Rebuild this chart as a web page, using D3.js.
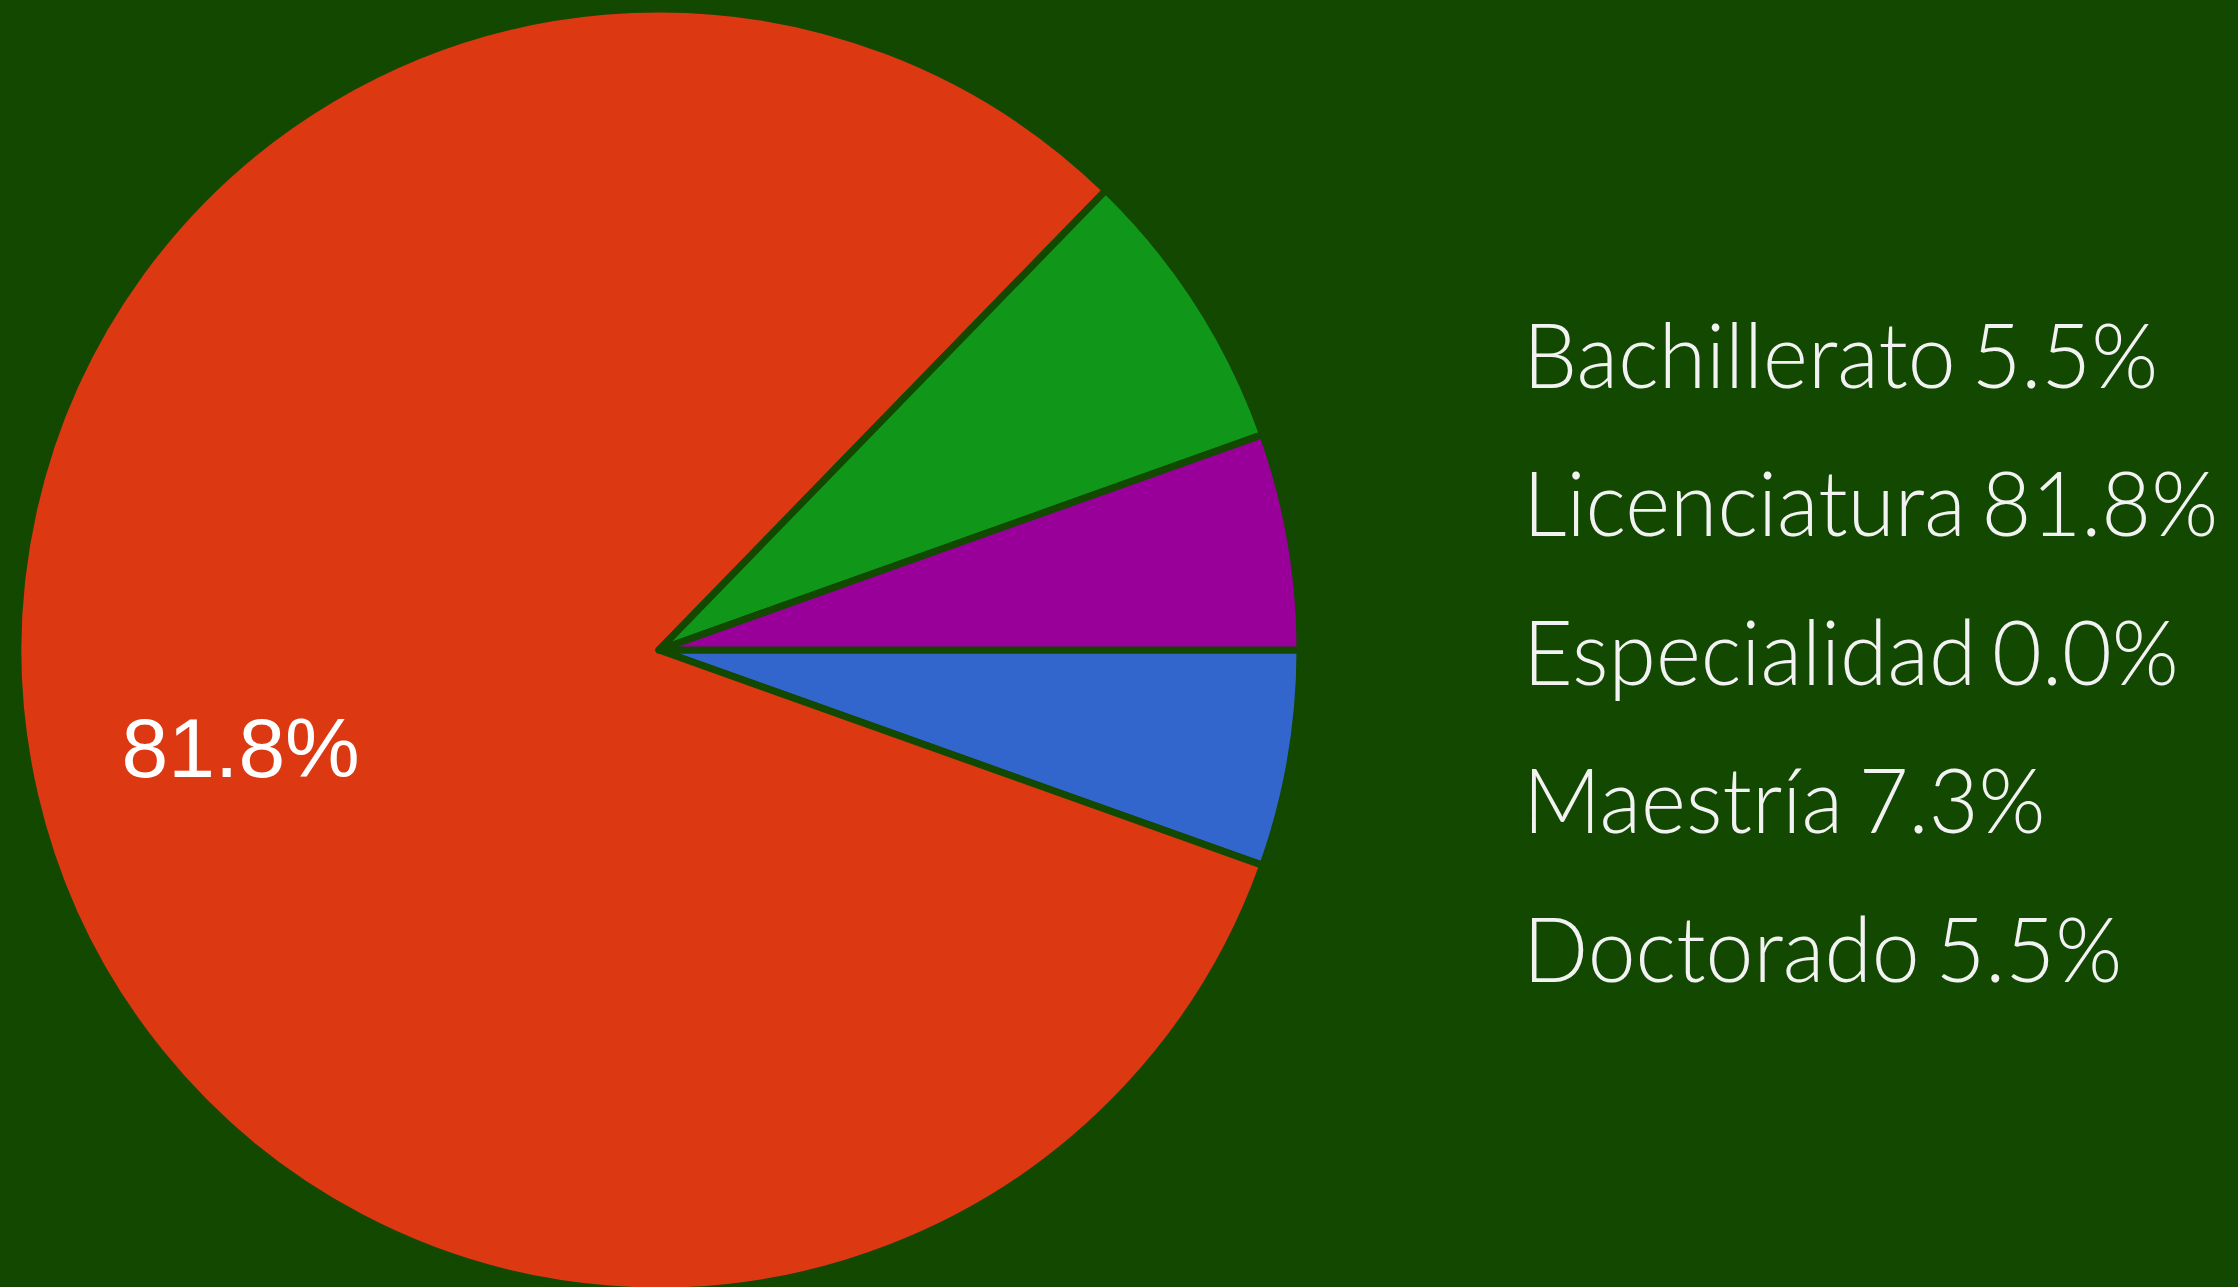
<!DOCTYPE html>
<html>
<head>
  <meta charset="utf-8">
  <title>Nivel de estudios</title>
  <script src="https://d3js.org/d3.v7.min.js"></script>
  <style>
    html, body { margin: 0; padding: 0; background: #124800; }
    svg { display: block; }
    .legend text { font-family: Lato, sans-serif; font-weight: 300; fill: #f2f2f2; }
    .slice-label { font-family: Arial, "Liberation Sans", sans-serif; fill: #fff; }
  </style>
</head>
<body>
  <svg width="2238" height="1287"></svg>
  <script>
    // counts per level (55 people in total)
    const categories = ["Bachillerato", "Licenciatura", "Especialidad", "Maestría", "Doctorado"];
    const counts = [3, 45, 0, 4, 3];
    const colors = ["#3366cc", "#dc3912", "#ff9900", "#109618", "#990099"];

    const data = categories.map((c, i) => ({ name: c, value: counts[i], color: colors[i] }));
    const total = d3.sum(counts);
    const pct = v => (v / total * 100).toFixed(1) + "%";

    const svg = d3.select("svg");
    const cx = 659, cy = 650, radius = 641;

    const pie = d3.pie()
      .sort(null)
      .value(d => d.value)
      .startAngle(Math.PI / 2)
      .endAngle(Math.PI / 2 + 2 * Math.PI);

    const arc = d3.arc().innerRadius(0).outerRadius(radius);
    const labelArc = d3.arc().innerRadius(radius * 0.67).outerRadius(radius * 0.67);

    const g = svg.append("g").attr("transform", `translate(${cx},${cy})`);

    g.selectAll("path")
      .data(pie(data).filter(d => d.data.value > 0))
      .join("path")
      .attr("d", arc)
      .attr("fill", d => d.data.color)
      .attr("stroke", "#124800")
      .attr("stroke-width", 7)
      .attr("stroke-linejoin", "round");

    // only slices big enough get a label inside
    g.selectAll("text")
      .data(pie(data).filter(d => d.endAngle - d.startAngle > 0.5))
      .join("text")
      .attr("class", "slice-label")
      .attr("text-anchor", "middle")
      .attr("font-size", 84)
      .attr("x", d => labelArc.centroid(d)[0])
      .attr("y", d => labelArc.centroid(d)[1] + 30)
      .text(d => pct(d.data.value));

    const legend = svg.append("g").attr("class", "legend")
      .attr("transform", "translate(1523,0) scale(0.955,1)");
    const ly = d3.scalePoint().domain(categories).range([388, 982]);

    legend.selectAll("text")
      .data(data)
      .join("text")
      .attr("x", 0)
      .attr("y", d => ly(d.name))
      .attr("font-size", 90)
      .attr("word-spacing", -8)
      .text(d => `${d.name} ${pct(d.value)}`);
  </script>
</body>
</html>
